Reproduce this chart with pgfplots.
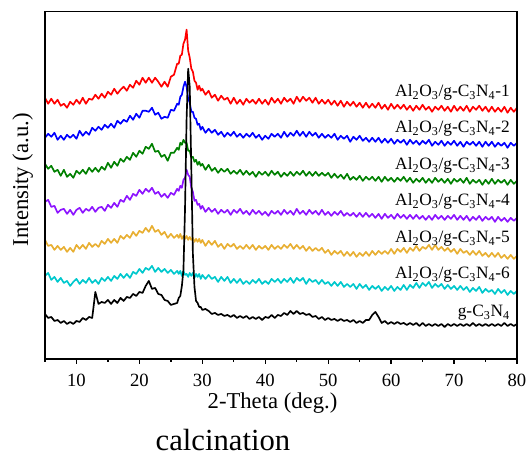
\documentclass[border=0pt]{standalone}
\usepackage{pgfplots}
\pgfplotsset{compat=1.18}
\usepackage{pgfplotstable}
\usepackage{fontspec}
\setmainfont{Liberation Serif}
\definecolor{cred}{RGB}{255,0,0}
\definecolor{cblue}{RGB}{0,0,255}
\definecolor{cgreen}{RGB}{0,128,0}
\definecolor{cpur}{RGB}{140,20,255}
\definecolor{corange}{RGB}{232,175,50}
\definecolor{ccyan}{RGB}{0,200,205}
\begin{document}
\pgfplotstableread{
x R B G P O C K
5.0 261 221 195 157 119 83 45
5.5 255 225 190 159 113 86 41
6.0 260 222 193 152 114 79 42
6.5 255 226 187 153 109 82 38
7.0 259 219 189 146 113 77 39
7.5 253 223 183 149 109 81 36
8.0 255 219 189 150 112 76 38
8.5 251 224 182 145 107 78 35
9.0 257 221 185 149 111 73 37
9.5 254 224 181 144 107 77 35
10.0 259 220 188 149 114 80 38
10.5 255 228 185 151 110 75 37
11.0 261 223 189 146 114 79 41
11.5 255 227 185 150 110 76 39
12.0 260 224 191 148 116 81 42
12.5 259 231 187 152 112 76 41
13.0 264 228 191 147 115 79 67
13.5 260 232 187 151 112 75 55
14.0 265 229 192 152 118 81 57
14.5 261 234 189 148 115 78 56
15.0 267 231 196 154 120 82 59
15.5 264 235 191 151 116 78 55
16.0 270 231 197 156 120 83 59
16.5 265 238 193 152 116 80 56
17.0 269 235 200 159 123 85 61
17.5 272 239 197 157 120 81 58
18.0 268 237 202 163 124 85 62
18.5 274 243 199 159 121 81 61
19.0 271 239 206 165 127 87 65
19.5 278 245 202 163 123 85 63
20.0 274 241 208 169 128 90 67
20.5 281 248 205 165 126 86 66
21.0 276 248 212 170 131 91 73
21.5 281 247 210 167 127 89 78
22.0 276 251 215 171 133 93 70
22.5 281 244 207 165 127 87 71
23.0 277 246 208 167 129 91 65
23.5 272 240 202 162 124 87 64
24.0 277 242 204 165 127 90 59
24.5 272 241 198 161 121 86 58
25.0 282 249 206 166 125 89 54
25.5 284 248 206 164 121 85 55
26.0 295 255 211 170 124 88 56
26.25 295 254 209 168 121 85 61
26.5 303 262 216 173 125 88 63
26.75 304 264 214 171 120 83 73
27.0 315 272 219 179 123 88 89
27.25 319 277 216 181 120 84 150
27.5 329 272 216 189 123 85 240
27.75 308 260 208 184 119 82 290
28.0 301 256 208 182 122 86 272
28.25 290 247 201 171 119 83 190
28.5 287 247 202 167 121 86 105
28.75 278 241 197 158 117 81 72
29.0 276 240 199 159 120 85 58
29.25 269 234 194 154 117 82 56
29.5 273 235 197 155 120 85 52
29.75 268 229 193 150 116 80 52
30.0 270 232 195 153 119 84 49
30.5 264 226 189 147 113 80 50
31.0 268 230 194 151 118 84 48
31.5 261 226 188 147 114 80 45
32.0 264 229 191 150 118 82 46
32.5 258 224 186 145 112 77 44
33.0 263 227 190 149 115 82 45
33.5 259 222 187 146 110 78 43
34.0 261 226 190 149 115 82 44
34.5 255 223 185 144 112 76 42
35.0 261 227 188 149 115 80 44
35.5 255 222 185 146 110 76 41
36.0 259 225 189 150 113 80 43
36.5 254 221 184 145 110 75 41
37.0 260 225 188 148 114 78 43
37.5 256 222 184 144 110 75 40
38.0 259 226 187 149 114 79 42
38.5 255 221 182 145 109 76 40
39.0 260 224 187 148 113 80 42
39.5 255 219 184 144 110 75 39
40.0 259 223 187 147 113 78 42
40.5 254 220 183 143 109 75 41
41.0 261 225 188 148 114 80 44
41.5 256 222 184 145 110 77 41
42.0 260 225 187 148 113 80 44
42.5 255 221 182 144 110 76 43
43.0 261 227 186 149 114 80 46
43.5 257 222 183 145 111 77 44
44.0 260 226 187 148 115 81 48
44.5 255 223 183 144 110 76 45
45.0 262 228 187 150 114 81 48
45.5 257 223 184 145 110 78 45
46.0 262 227 188 148 113 81 46
46.5 258 222 183 144 108 75 44
47.0 261 227 187 149 112 80 45
47.5 256 223 183 145 108 77 42
48.0 261 226 187 148 111 79 43
48.5 255 221 183 144 108 75 40
49.0 259 225 186 149 111 79 42
49.5 255 221 183 144 106 75 39
50.0 259 224 186 147 109 77 41
50.5 254 221 181 143 104 73 39
51.0 258 225 185 147 108 77 40
51.5 253 219 181 144 105 73 38
52.0 258 223 184 148 108 77 40
52.5 252 220 180 143 103 72 38
53.0 257 223 185 146 107 75 39
53.5 253 217 179 143 103 72 37
54.0 257 222 182 146 107 75 39
54.5 252 219 179 142 102 70 36
55.0 256 223 183 146 106 75 38
55.5 251 218 178 142 103 71 36
56.0 256 221 182 146 107 74 39
56.5 251 217 179 142 103 69 39
57.0 255 221 182 145 108 73 44
57.5 251 217 178 141 104 70 47
58.0 256 221 182 145 108 73 42
58.5 250 216 177 140 105 68 36
59.0 254 220 182 145 108 72 38
59.5 249 216 178 141 105 69 35
60.0 255 220 181 144 110 73 37
60.5 250 215 177 140 105 68 35
61.0 254 219 181 145 110 72 37
61.5 250 216 178 141 107 69 35
62.0 254 219 182 144 111 74 36
62.5 249 214 177 140 106 69 34
63.0 253 219 181 144 111 74 36
63.5 248 215 176 140 108 71 34
64.0 253 218 180 144 113 76 36
64.5 249 214 177 140 108 71 33
65.0 254 218 181 143 112 76 36
65.5 249 215 176 139 110 73 33
66.0 252 219 180 143 114 77 35
66.5 247 213 176 139 109 71 33
67.0 252 217 181 144 114 75 35
67.5 249 214 177 140 109 72 33
68.0 253 218 180 143 112 75 35
68.5 248 213 176 139 108 70 32
69.0 252 217 180 143 111 74 35
69.5 247 214 175 140 107 70 33
70.0 253 218 180 144 110 73 35
70.5 248 213 177 139 105 69 33
71.0 252 217 180 143 110 73 35
71.5 248 212 176 139 106 69 33
72.0 253 217 181 143 108 72 35
72.5 247 214 175 138 104 67 33
73.0 252 217 179 142 108 71 36
73.5 249 213 176 139 104 68 33
74.0 253 217 179 143 108 72 35
74.5 248 212 174 138 103 66 33
75.0 252 217 179 142 106 70 35
75.5 247 213 175 139 102 67 33
76.0 252 217 180 142 106 69 35
76.5 247 212 175 137 102 65 33
77.0 251 216 179 142 106 70 35
77.5 247 213 176 138 101 66 33
78.0 252 216 179 141 104 69 36
78.5 246 211 174 137 100 64 33
79.0 251 216 179 141 104 68 35
79.5 247 213 175 138 100 65 33
80.0 251 216 178 141 103 68 35
}\xrd%
\begin{tikzpicture}
\begin{axis}[
  at={(0,0)}, anchor=south west,
  scale only axis, width=354pt, height=260.5pt,
  xmin=5, xmax=80, ymin=0, ymax=347,
  xtick={10,20,...,80}, minor xtick={5,15,...,75},
  ytick=\empty, xtick pos=left, tick align=outside,
  major tick length=3.5pt, minor tick length=2.2pt,
  axis line style={line width=1.2pt},
  every tick/.style={black, line width=1pt},
  ticklabel style={font=\fontsize{14}{16}\selectfont},
  xticklabel style={inner xsep=0.5pt, yshift=-4.5pt},
  /pgf/number format/assume math mode=true,
  xlabel={2-Theta (deg.)}, ylabel={Intensity (a.u.)},
  label style={font=\fontsize{17}{20}\selectfont, inner sep=0pt},
  xlabel style={at={(axis description cs:0.482,-0.143)}, anchor=base},
  ylabel style={at={(axis description cs:-0.047,0.516)}, anchor=center},
  clip=false,
  every axis plot/.append style={line width=1.25pt, line join=round},
]
\addplot[cred] table[x=x,y=R]{\xrd};
\addplot[cblue] table[x=x,y=B]{\xrd};
\addplot[cgreen] table[x=x,y=G]{\xrd};
\addplot[cpur] table[x=x,y=P]{\xrd};
\addplot[corange] table[x=x,y=O]{\xrd};
\addplot[ccyan] table[x=x,y=C]{\xrd};
\addplot[black] table[x=x,y=K]{\xrd};
\begin{scope}[every node/.style={anchor=base east, inner sep=0pt, font=\fontsize{13}{15}\selectfont}]
\node at (axis cs:78.9,262) {Al\textsubscript{2}O\textsubscript{3}/g-C\textsubscript{3}N\textsubscript{4}-1};
\node at (axis cs:78.9,226) {Al\textsubscript{2}O\textsubscript{3}/g-C\textsubscript{3}N\textsubscript{4}-2};
\node at (axis cs:78.9,189) {Al\textsubscript{2}O\textsubscript{3}/g-C\textsubscript{3}N\textsubscript{4}-3};
\node at (axis cs:78.9,153) {Al\textsubscript{2}O\textsubscript{3}/g-C\textsubscript{3}N\textsubscript{4}-4};
\node at (axis cs:78.9,116) {Al\textsubscript{2}O\textsubscript{3}/g-C\textsubscript{3}N\textsubscript{4}-5};
\node at (axis cs:78.9,80) {Al\textsubscript{2}O\textsubscript{3}/g-C\textsubscript{3}N\textsubscript{4}-6};
\node at (axis cs:78.9,42) {g-C\textsubscript{3}N\textsubscript{4}};
\end{scope}
\node[anchor=base, inner sep=0pt, font=\fontsize{23}{25}\selectfont] at (axis description cs:0.377,-0.262) {calcination};
\draw[black, line width=1.2pt] (rel axis cs:0,0) rectangle (rel axis cs:1,1);
\end{axis}
\path (-33.75pt,-72.75pt) rectangle (361.5pt,269.25pt);
\end{tikzpicture}
\end{document}
